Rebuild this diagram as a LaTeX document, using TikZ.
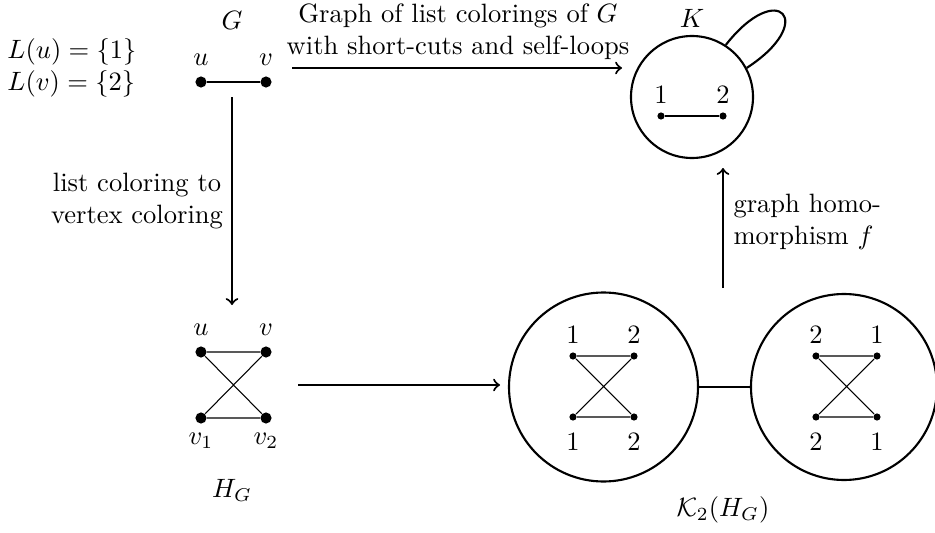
\documentclass[tikz,border=0pt]{standalone}
\newcommand{\pxl}{0.377pt}
\begin{document}
\begin{tikzpicture}[x=\pxl,y=-\pxl,
  bigdot/.style={circle,fill,inner sep=0pt,minimum size=4.2pt},
  smalldot/.style={circle,fill,inner sep=0pt,minimum size=2.7pt},
  bigcirc/.style={circle,draw,line width=0.8pt,inner sep=0pt},
  gedge/.style={line width=0.4pt},
  arr/.style={->,line width=0.8pt},
  lbl/.style={inner sep=0pt}]
\useasboundingbox (0,0) rectangle (935,533);

% G
\node[lbl] (Glab) at (232,20) {$G$};
\node[lbl,align=left] (lists) at (72,68) {$L(u)=\{1\}$\\$L(v)=\{2\}$};
\node[bigdot] (gu) at (201,82) {};
\node[bigdot] (gv) at (266,82) {};
\node[lbl] (gul) at (201,60) {$u$};
\node[lbl] (gvl) at (266,60) {$v$};
\draw[gedge] (gu) -- (gv);

% K
\node[bigcirc,minimum size=122*\pxl] (K) at (692,97) {};
\node[lbl] (Klab) at (692,18) {$K$};
\node[smalldot] (k1) at (661,116) {};
\node[smalldot] (k2) at (723,116) {};
\node[lbl] (k1l) at (661,95) {$1$};
\node[lbl] (k2l) at (723,95) {$2$};
\draw[gedge] (k1) -- (k2);
\draw[line width=0.8pt] (K.57) .. controls +(-52:85) and +(-33:85) .. (K.28);

% top arrow
\coordinate (ta) at (292,68);
\coordinate (tb) at (622,68);
\draw[arr] (ta) -- (tb);
\node[lbl,align=center] (toplab) at (458,32) {Graph of list colorings of $G$\\with short-cuts and self-loops};

% left arrow
\coordinate (la) at (232,97);
\coordinate (lb) at (232,305);
\draw[arr] (la) -- (lb);
\node[lbl,align=center] (leftlab) at (137,201) {list coloring to\\vertex coloring};

% H_G
\node[bigdot] (hu) at (201,352) {};
\node[bigdot] (hv) at (266,352) {};
\node[bigdot] (hv1) at (201,418) {};
\node[bigdot] (hv2) at (266,418) {};
\node[lbl] (hul) at (201,330) {$u$};
\node[lbl] (hvl) at (266,330) {$v$};
\node[lbl] (hv1l) at (201,441) {$v_1$};
\node[lbl] (hv2l) at (266,441) {$v_2$};
\draw[gedge] (hu) -- (hv) (hv1) -- (hv2) (hu) -- (hv2) (hv) -- (hv1);
\node[lbl] (HGlab) at (232,490) {$H_G$};

% bottom arrow
\coordinate (ba) at (298,385);
\coordinate (bb) at (500,385);
\draw[arr] (ba) -- (bb);

% K2(HG)
\node[bigcirc,minimum size=189*\pxl] (C1) at (603.5,387) {};
\node[bigcirc,minimum size=186*\pxl] (C2) at (844,387) {};
\draw[line width=0.8pt] (C1) -- (C2);

\node[smalldot] (a1) at (573,356) {};
\node[smalldot] (a2) at (634,356) {};
\node[smalldot] (a3) at (573,417) {};
\node[smalldot] (a4) at (634,417) {};
\node[lbl] (a1l) at (573,335) {$1$};
\node[lbl] (a2l) at (634,335) {$2$};
\node[lbl] (a3l) at (573,442) {$1$};
\node[lbl] (a4l) at (634,442) {$2$};
\draw[gedge] (a1) -- (a2) (a3) -- (a4) (a1) -- (a4) (a2) -- (a3);

\node[smalldot] (b1) at (816,356) {};
\node[smalldot] (b2) at (877,356) {};
\node[smalldot] (b3) at (816,417) {};
\node[smalldot] (b4) at (877,417) {};
\node[lbl] (b1l) at (816,335) {$2$};
\node[lbl] (b2l) at (877,335) {$1$};
\node[lbl] (b3l) at (816,442) {$2$};
\node[lbl] (b4l) at (877,442) {$1$};
\draw[gedge] (b1) -- (b2) (b3) -- (b4) (b1) -- (b4) (b2) -- (b3);

\node[lbl] (K2lab) at (723,510) {$\mathcal{K}_2(H_G)$};

% right arrow
\coordinate (ra) at (723,288);
\coordinate (rb) at (723,168);
\draw[arr] (ra) -- (rb);
\node[lbl,align=left,anchor=west] (rightlab) at (733,222) {graph homo-\\morphism $f$};
\end{tikzpicture}
\end{document}
